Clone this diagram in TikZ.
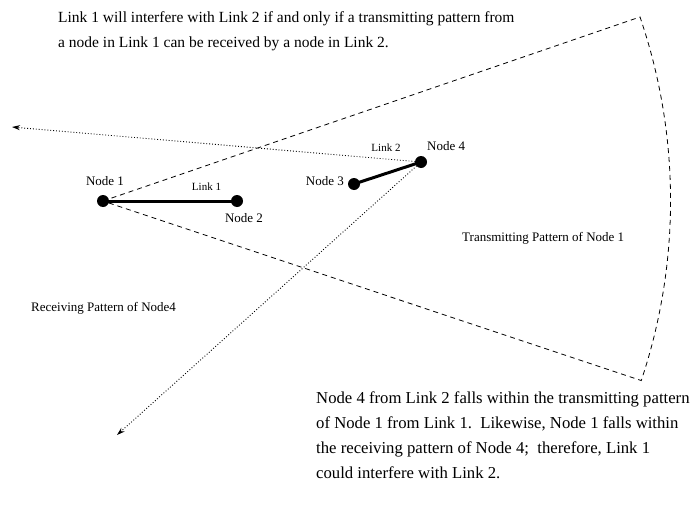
\documentclass[tikz,border=0pt]{standalone}
\usepackage{fontspec}
\setmainfont{Liberation Serif}
\usetikzlibrary{arrows.meta}
\tikzset{
  dot/.style={circle,fill=black,inner sep=0pt,minimum size=12pt},
  lbl/.style={font=\fontsize{13}{15}\selectfont,inner sep=0pt},
  small/.style={font=\fontsize{11}{13}\selectfont,inner sep=0pt},
  txt/.style={inner sep=0pt,align=left,anchor=north west},
  pat/.style={line width=0.8pt,dash pattern=on 5pt off 4pt},
  ray/.style={dotted,line width=0.9pt,-{Stealth[length=8pt,width=5pt]}},
  link/.style={line width=3pt}
}
\begin{document}
\begin{tikzpicture}[x=1pt,y=-1pt]
\useasboundingbox (0,0) rectangle (691,506);
\node[dot] (n1) at (103,201) {};
\node[dot] (n2) at (237,201) {};
\node[dot] (n3) at (354,184) {};
\node[dot] (n4) at (421,162) {};
\coordinate (top) at (640,17);
\coordinate (tl) at (12,127);
\coordinate (bl) at (117,435);
% transmitting pattern
\draw[pat] (n1.center) -- (top)
  arc[start angle=-18.9,end angle=18.5,radius=567] coordinate (bot) -- (n1.center);
% receiving pattern
\draw[ray] (n4.center) -- (tl);
\draw[ray] (n4.center) -- (bl);
% links
\draw[link] (n1.center) -- (n2.center);
\draw[link] (n3.center) -- (n4.center);
% labels
\node[lbl] (l1) at (105,181) {Node 1};
\node[lbl] (l2) at (244,218) {Node 2};
\node[lbl,anchor=east] (l3) at (344,181) {Node 3};
\node[lbl,anchor=west] (l4) at (427,146) {Node 4};
\node[small] (k1) at (206.5,187) {Link 1};
\node[small] (k2) at (386,148) {Link 2};
\node[lbl,anchor=west] (tp) at (462,238) {Transmitting Pattern of Node 1};
\node[lbl,anchor=west] (rp) at (31,308) {Receiving Pattern of Node4};
\node[txt,font=\fontsize{15.5}{25}\selectfont] (toptext) at (58,11) {Link 1 will interfere with Link 2 if and only if a transmitting pattern from\\a node in Link 1 can be received by a node in Link 2.};
\node[txt,font=\fontsize{16.7}{25}\selectfont] (bottomtext) at (316,392) {Node 4 from Link 2 falls within the transmitting pattern\\of Node 1 from Link 1.\ \ Likewise, Node 1 falls within\\the receiving pattern of Node 4;\ \ therefore, Link 1\\could interfere with Link 2.};
\end{tikzpicture}
\end{document}
